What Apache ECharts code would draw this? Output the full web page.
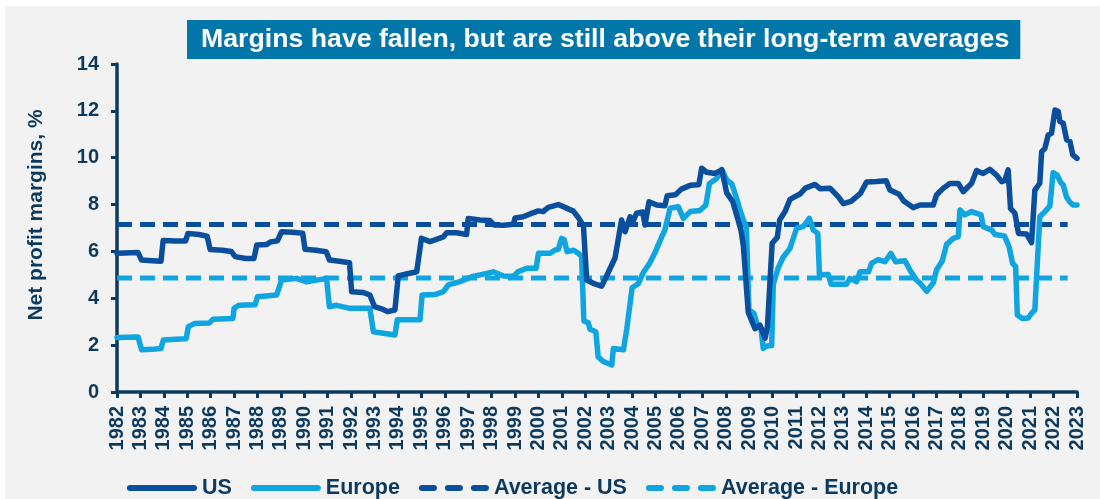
<!DOCTYPE html>
<html>
<head>
<meta charset="utf-8">
<script src="https://cdn.jsdelivr.net/npm/echarts@6/dist/echarts.min.js"></script>
<style>
  html, body { margin: 0; padding: 0; background: #fff; }
  #chart { width: 1100px; height: 499px; }
</style>
</head>
<body>
<div id="chart"></div>
<script>
// [year, net profit margin %]
const usData = [
  [1982.0, 5.92], [1982.9, 5.95], [1983.05, 5.63], [1983.5, 5.6], [1983.88, 5.58], [1983.97, 6.47],
  [1984.5, 6.45], [1984.93, 6.45], [1985.03, 6.77], [1985.5, 6.72], [1985.85, 6.65], [1985.98, 6.08],
  [1986.5, 6.05], [1986.88, 6.0], [1987.05, 5.78], [1987.5, 5.7], [1987.85, 5.7], [1987.97, 6.27],
  [1988.4, 6.3], [1988.55, 6.4], [1988.85, 6.45], [1989.03, 6.84], [1989.5, 6.82], [1989.93, 6.78],
  [1990.03, 6.09], [1990.5, 6.05], [1990.93, 5.99], [1991.08, 5.63], [1991.5, 5.58], [1991.93, 5.52],
  [1992.02, 4.28], [1992.5, 4.25], [1992.8, 4.14], [1993.0, 3.64], [1993.3, 3.55], [1993.55, 3.43],
  [1993.87, 3.5], [1994.01, 4.95], [1994.4, 5.05], [1994.8, 5.13], [1995.0, 6.56], [1995.37, 6.42],
  [1995.94, 6.62], [1996.08, 6.8], [1996.5, 6.8], [1996.93, 6.72], [1997.0, 7.41], [1997.5, 7.34],
  [1997.93, 7.32], [1998.1, 7.13], [1998.5, 7.12], [1998.93, 7.16], [1999.0, 7.43], [1999.35, 7.48],
  [1999.64, 7.6], [1999.99, 7.73], [2000.2, 7.7], [2000.42, 7.88], [2000.85, 8.0], [2001.13, 7.88],
  [2001.49, 7.72], [2001.7, 7.45], [2001.92, 7.1], [2002.06, 4.78], [2002.34, 4.64], [2002.7, 4.52],
  [2002.98, 5.1], [2003.27, 5.72], [2003.55, 7.34], [2003.7, 6.84], [2003.91, 7.48], [2004.05, 7.3],
  [2004.19, 7.63], [2004.45, 7.68], [2004.55, 7.13], [2004.72, 8.12], [2005.05, 7.98], [2005.4, 7.95],
  [2005.5, 8.38], [2005.85, 8.42], [2006.1, 8.66], [2006.48, 8.82], [2006.85, 8.85], [2006.97, 9.55],
  [2007.18, 9.38], [2007.54, 9.33], [2007.83, 9.48], [2008.04, 8.5], [2008.3, 8.12], [2008.45, 7.6],
  [2008.65, 6.9], [2008.75, 6.25], [2008.96, 3.4], [2009.25, 2.7], [2009.46, 2.85], [2009.68, 2.3],
  [2009.78, 2.8], [2009.98, 6.35], [2010.2, 6.6], [2010.3, 7.34], [2010.53, 7.7], [2010.74, 8.22],
  [2011.17, 8.45], [2011.4, 8.7], [2011.81, 8.86], [2012.02, 8.68], [2012.45, 8.7], [2012.8, 8.34],
  [2013.02, 8.04], [2013.35, 8.14], [2013.75, 8.48], [2014.01, 8.96], [2014.44, 8.98], [2014.85, 9.02],
  [2015.01, 8.62], [2015.4, 8.44], [2015.6, 8.15], [2016.0, 7.87], [2016.3, 7.98], [2016.86, 7.98],
  [2017.0, 8.41], [2017.29, 8.7], [2017.57, 8.9], [2017.93, 8.9], [2018.14, 8.55], [2018.5, 8.91],
  [2018.71, 9.45], [2018.99, 9.33], [2019.28, 9.5], [2019.56, 9.26], [2019.78, 8.98], [2019.92, 9.02],
  [2020.06, 9.48], [2020.16, 7.84], [2020.35, 7.63], [2020.5, 6.77], [2020.85, 6.74], [2021.06, 6.38],
  [2021.2, 8.62], [2021.41, 8.91], [2021.49, 10.26], [2021.63, 10.4], [2021.77, 10.97], [2021.91, 11.04],
  [2022.06, 12.04], [2022.2, 11.97], [2022.27, 11.54], [2022.41, 11.47], [2022.56, 10.76], [2022.7, 10.69],
  [2022.82, 10.12], [2023.0, 9.97]
]

const europeData = [
  [1982.0, 2.33], [1982.9, 2.35], [1983.05, 1.8], [1983.5, 1.82], [1983.88, 1.86], [1983.98, 2.22],
  [1984.5, 2.25], [1984.95, 2.27], [1985.05, 2.79], [1985.3, 2.92], [1985.95, 2.95], [1986.1, 3.1],
  [1986.95, 3.14], [1987.0, 3.57], [1987.2, 3.7], [1987.9, 3.72], [1988.0, 4.07], [1988.82, 4.14],
  [1989.03, 4.78], [1989.67, 4.85], [1990.1, 4.7], [1990.95, 4.85], [1991.07, 3.64], [1991.38, 3.7],
  [1991.95, 3.57], [1992.8, 3.57], [1992.95, 2.57], [1993.87, 2.43], [1993.97, 3.08], [1994.94, 3.08],
  [1995.03, 4.14], [1995.58, 4.16], [1995.94, 4.28], [1996.15, 4.57], [1996.65, 4.71], [1997.15, 4.92],
  [1997.6, 5.02], [1998.07, 5.13], [1998.5, 4.95], [1998.93, 4.94], [1999.14, 5.14], [1999.5, 5.28],
  [1999.9, 5.28], [2000.0, 5.92], [2000.5, 5.92], [2000.71, 6.06], [2000.85, 6.1], [2000.99, 6.56],
  [2001.1, 6.5], [2001.22, 5.99], [2001.5, 6.05], [2001.7, 5.92], [2001.84, 5.8], [2001.94, 3.03],
  [2002.13, 2.95], [2002.2, 2.68], [2002.45, 2.57], [2002.55, 1.5], [2002.77, 1.3], [2003.13, 1.15],
  [2003.2, 1.86], [2003.63, 1.8], [2003.77, 2.68], [2004.0, 4.45], [2004.26, 4.62], [2004.48, 5.1],
  [2004.76, 5.52], [2004.98, 5.95], [2005.19, 6.45], [2005.4, 6.92], [2005.62, 7.84], [2005.97, 7.91],
  [2006.19, 7.41], [2006.48, 7.7], [2006.9, 7.75], [2007.15, 7.98], [2007.3, 8.9], [2007.6, 9.1],
  [2007.83, 9.5], [2008.04, 9.05], [2008.26, 8.88], [2008.45, 8.3], [2008.65, 7.63], [2008.88, 7.0],
  [2008.99, 3.5], [2009.2, 3.36], [2009.35, 2.85], [2009.5, 2.75], [2009.6, 1.86], [2009.75, 1.96],
  [2009.96, 1.98], [2010.03, 4.6], [2010.24, 5.3], [2010.45, 5.75], [2010.74, 6.13], [2011.03, 7.0],
  [2011.31, 7.06], [2011.57, 7.41], [2011.74, 6.91], [2011.93, 6.77], [2012.0, 5.0], [2012.38, 5.02],
  [2012.5, 4.6], [2013.16, 4.6], [2013.3, 4.85], [2013.59, 4.71], [2013.73, 5.13], [2014.1, 5.13],
  [2014.23, 5.5], [2014.51, 5.65], [2014.8, 5.56], [2015.05, 5.92], [2015.25, 5.56], [2015.65, 5.6],
  [2015.87, 5.2], [2016.14, 4.78], [2016.3, 4.64], [2016.58, 4.3], [2016.86, 4.65], [2017.0, 5.21],
  [2017.25, 5.6], [2017.43, 6.3], [2017.72, 6.56], [2017.93, 6.63], [2018.0, 7.77], [2018.21, 7.56],
  [2018.5, 7.7], [2018.9, 7.56], [2019.0, 7.06], [2019.36, 6.91], [2019.5, 6.72], [2019.9, 6.66],
  [2020.1, 6.2], [2020.25, 5.49], [2020.38, 5.35], [2020.45, 3.29], [2020.67, 3.14], [2020.92, 3.16],
  [2021.06, 3.36], [2021.2, 3.5], [2021.41, 7.48], [2021.63, 7.7], [2021.84, 7.94], [2021.98, 9.36],
  [2022.15, 9.26], [2022.3, 8.95], [2022.41, 8.84], [2022.56, 8.3], [2022.7, 8.1], [2022.84, 7.98],
  [2023.0, 7.98]
]

const avgSpan = [1982, 2022.6]
const avgUS = 7.15
const avgEurope = 4.87

const navy = '#0c3a5e'
const usColor = '#0a4f9e'
const euColor = '#0ea5e0'
const font = 'Liberation Sans, Arial, sans-serif'

const solidIcon = 'path://M3,0h64a3,3 0 0 1 0,6h-64a3,3 0 0 1 0,-6z'
const dashIcon = 'path://M3,0h12a3,3 0 0 1 0,6h-12a3,3 0 0 1 0,-6z M29,0h12a3,3 0 0 1 0,6h-12a3,3 0 0 1 0,-6z M55,0h12a3,3 0 0 1 0,6h-12a3,3 0 0 1 0,-6z'

let myChart = echarts.init(document.getElementById('chart'), null, { renderer: 'canvas' })

const option = {
  animation: false,
  backgroundColor: '#ffffff',
  graphic: [{
    type: 'rect', z: -10, silent: true,
    shape: { x: 5, y: 6, width: 1095, height: 493 },
    style: { fill: '#f2f2f2' }
  }],
  title: {
    text: 'Margins have fallen, but are still above their long-term averages',
    left: 187, top: 20,
    padding: [6, 11, 6, 14],
    backgroundColor: '#0077a8',
    textStyle: { color: '#fff', fontSize: 26.7, fontWeight: 'bold', fontFamily: font }
  },
  legend: {
    top: 472, left: 122,
    itemWidth: 70, itemHeight: 6, itemGap: 19,
    textStyle: { color: navy, fontSize: 21.5, fontWeight: 'bold', fontFamily: font },
    data: [
      { name: 'US', icon: solidIcon },
      { name: 'Europe', icon: solidIcon },
      { name: 'Average - US', icon: dashIcon },
      { name: 'Average - Europe', icon: dashIcon }
    ]
  },
  grid: { left: 117, right: 23, top: 64, bottom: 107, containLabel: false },
  xAxis: {
    type: 'value', min: 1982, max: 2023, interval: 1,
    axisLine: { show: true, onZero: false, lineStyle: { color: navy, width: 3.5 } },
    axisTick: { show: true, length: 6, lineStyle: { color: navy, width: 3 } },
    splitLine: { show: false },
    axisLabel: {
      rotate: 90, margin: 14, color: navy, fontSize: 20, fontWeight: 'bold', fontFamily: font,
      formatter: v => String(v)
    }
  },
  yAxis: {
    type: 'value', min: 0, max: 14, interval: 2,
    name: 'Net profit margins, %', nameLocation: 'middle', nameGap: 70,
    nameTextStyle: { color: navy, fontSize: 21, fontWeight: 'bold', fontFamily: font, padding: [0, 0, 0, 26] },
    axisLine: { show: true, lineStyle: { color: navy, width: 3.5 } },
    axisTick: { show: true, length: 6, lineStyle: { color: navy, width: 3 } },
    splitLine: { show: false },
    axisLabel: { margin: 18, color: navy, fontSize: 20, fontWeight: 'bold', fontFamily: font }
  },
  series: [
    {
      name: 'Average - US', type: 'line', symbol: 'none', z: 1,
      data: avgSpan.map(x => [x, avgUS]),
      lineStyle: { color: usColor, width: 5, type: [15, 8] },
      itemStyle: { color: usColor }
    },
    {
      name: 'Average - Europe', type: 'line', symbol: 'none', z: 1,
      data: avgSpan.map(x => [x, avgEurope]),
      lineStyle: { color: euColor, width: 5, type: [15, 8] },
      itemStyle: { color: euColor }
    },
    {
      name: 'Europe', type: 'line', symbol: 'none', z: 2,
      data: europeData,
      lineStyle: { color: euColor, width: 5.5, join: 'round', cap: 'round' },
      itemStyle: { color: euColor }
    },
    {
      name: 'US', type: 'line', symbol: 'none', z: 3,
      data: usData,
      lineStyle: { color: usColor, width: 5.5, join: 'round', cap: 'round' },
      itemStyle: { color: usColor }
    }
  ]
}

//set options
myChart.setOption(option)
</script>
</body>
</html>
